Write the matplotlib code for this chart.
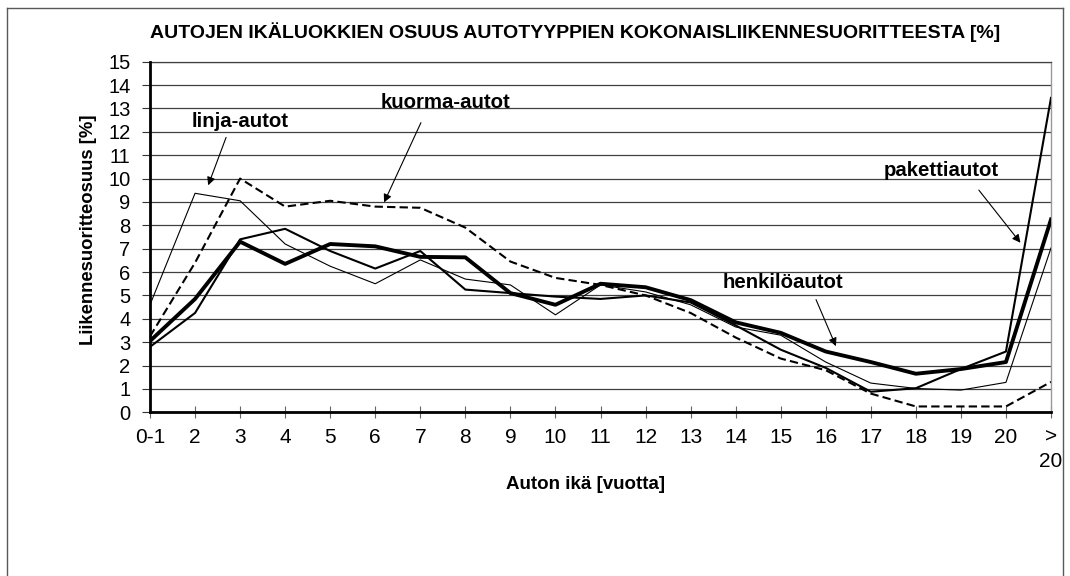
import matplotlib
matplotlib.use("Agg")
import matplotlib.pyplot as plt
from matplotlib.lines import Line2D

plt.rcParams['font.family'] = ['Liberation Sans', 'DejaVu Sans']

# age classes on x axis
ages = ['0-1', '2', '3', '4', '5', '6', '7', '8', '9', '10', '11', '12',
        '13', '14', '15', '16', '17', '18', '19', '20', '>\n20']

# share of total mileage [%] per vehicle type
henkiloautot = [3.05, 4.85, 7.3, 6.35, 7.2, 7.1, 6.65, 6.63, 5.1, 4.6, 5.5,
                5.35, 4.8, 3.85, 3.4, 2.6, 2.15, 1.65, 1.85, 2.15, 8.25]
pakettiautot = [2.8, 4.25, 7.4, 7.85, 6.9, 6.15, 6.9, 5.25, 5.1, 4.95, 4.85,
                5.0, 4.7, 3.72, 2.68, 1.9, 0.88, 1.03, 1.85, 2.6, 13.45]
linja_autot = [4.6, 9.37, 9.05, 7.2, 6.25, 5.5, 6.52, 5.7, 5.45, 4.17, 5.45,
               5.15, 4.6, 3.65, 3.3, 2.15, 1.25, 1.02, 0.95, 1.28, 7.03]
kuorma_autot = [3.25, 6.4, 10.0, 8.8, 9.05, 8.8, 8.75, 7.9, 6.45, 5.75, 5.45,
                5.0, 4.25, 3.2, 2.3, 1.8, 0.8, 0.25, 0.25, 0.25, 1.3]

fig = plt.figure(figsize=(10.7, 5.76), dpi=100)
ax = fig.add_axes([150 / 1070, 1 - 412.3 / 576, 901 / 1070, 350.6 / 576])

x = list(range(len(ages)))
ax.plot(x, linja_autot, color='black', lw=0.8, zorder=3)
ax.plot(x, kuorma_autot, color='black', lw=1.5, dashes=(4, 2), zorder=3)
ax.plot(x, pakettiautot, color='black', lw=1.5, zorder=4)
ax.plot(x, henkiloautot, color='black', lw=2.8, zorder=5)

ax.set_xlim(0, len(ages) - 1)
ax.set_ylim(0, 15)
ax.set_yticks(range(0, 16))
ax.set_xticks(x)
ax.set_xticklabels(ages, fontsize=15, linespacing=1.35)
ax.tick_params(axis='y', labelsize=14.5, length=6, width=0.8, color='0.2', pad=8)
ax.tick_params(axis='x', direction='inout', length=9, width=0.8, color='0.4', pad=6.5)
ax.grid(axis='y', color='0.25', lw=0.9, zorder=1)
ax.set_axisbelow(True)

ax.spines['left'].set_linewidth(2)
ax.spines['bottom'].set_linewidth(2)
ax.spines['left'].set_zorder(6)
ax.spines['bottom'].set_zorder(6)
ax.spines['top'].set_color('0.25')
ax.spines['top'].set_linewidth(0.9)
ax.spines['right'].set_color('0.6')
ax.spines['right'].set_linewidth(1)

ax.set_ylabel('Liikennesuoritteosuus [%]', fontsize=13.3, fontweight='bold')
ax.yaxis.set_label_coords(-0.0688, 0.52)
ax.yaxis.label.set_va('center')
ax.set_xlabel('Auton ikä [vuotta]', fontsize=13.5, fontweight='bold')
ax.xaxis.set_label_coords(0.483, -0.207)
ax.xaxis.label.set_va('center')

fig.text(575 / 1070, 1 - 32 / 576,
         'AUTOJEN IKÄLUOKKIEN OSUUS AUTOTYYPPIEN KOKONAISLIIKENNESUORITTEESTA [%]',
         ha='center', va='center', fontsize=14, fontweight='bold')

# series labels with arrows
arrow = dict(arrowstyle='-|>', color='black', lw=0.8, mutation_scale=12)
notes = [
    ('linja-autot', (2.01, 12.45), (1.71, 11.87), (1.27, 9.6)),
    ('kuorma-autot', (6.56, 13.27), (6.04, 12.5), (5.17, 8.87)),
    ('henkilöautot', (14.05, 5.55), (14.76, 4.93), (15.25, 2.72)),
    ('pakettiautot', (17.57, 10.35), (18.36, 9.6), (19.36, 7.16)),
]
for label, pos, tail, head in notes:
    ax.text(pos[0], pos[1], label, ha='center', va='center', fontsize=14.7,
            fontweight='bold', zorder=7)
    ax.annotate('', xy=head, xytext=tail, arrowprops=arrow, zorder=7)

# outer frame of the picture
for xs, ys in [((7, 7), (0, 568)), ((7, 1063), (568, 568)), ((1063, 1063), (0, 568))]:
    fig.add_artist(Line2D([v / 1070 for v in xs], [v / 576 for v in ys],
                          color='0.35', lw=1))

fig.savefig('out.png', dpi=100)
